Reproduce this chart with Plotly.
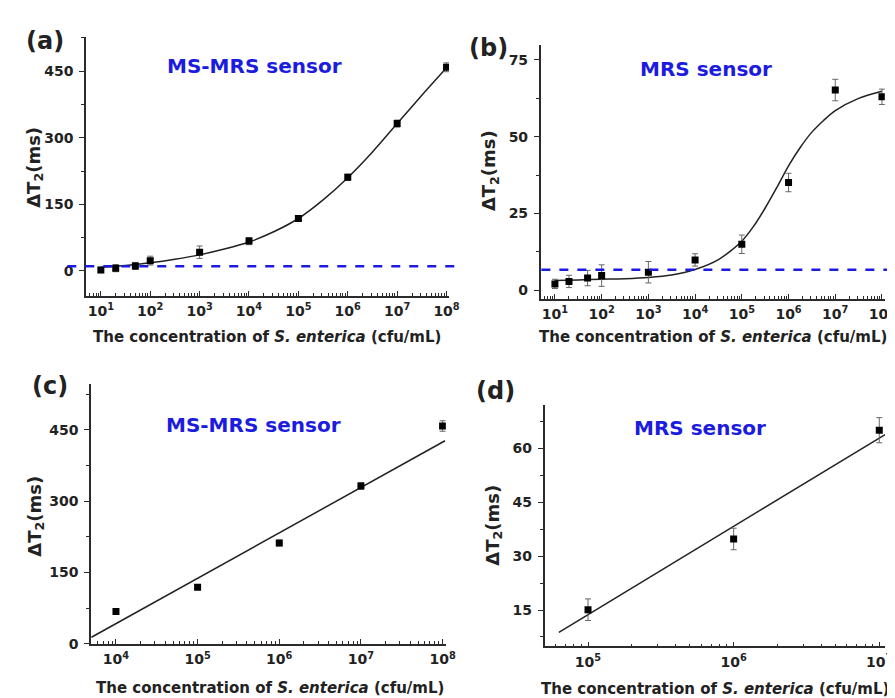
import plotly.graph_objects as go

# ---------------- data ----------------
conc_ab = [10, 20, 50, 100, 1e3, 1e4, 1e5, 1e6, 1e7, 1e8]
dT2_a = [2, 6, 11, 23, 42, 67, 118, 211, 332, 459]
err_a = [6, 8, 8, 10, 14, 8, 6, 7, 8, 10]
dT2_b = [2.1, 2.9, 4.0, 4.8, 5.9, 9.9, 15.0, 35.1, 65.2, 63.0]
err_b = [1.5, 2.0, 2.5, 3.5, 3.5, 2.0, 3.0, 3.0, 3.5, 2.5]

fit_a_x = [10, 10**1.5, 100, 10**2.5, 1e3, 10**3.5, 1e4, 10**4.5, 1e5,
           10**5.5, 1e6, 10**6.5, 1e7, 10**7.5, 1e8]
fit_a_y = [8, 12, 18, 26, 36, 49, 65, 88, 118, 160, 210, 268, 332, 396, 458]

fit_b_x = [10, 10**1.5, 100, 10**2.5, 1e3, 10**3.5, 1e4, 10**4.5, 1e5, 10**5.25,
           10**5.5, 10**5.75, 1e6, 10**6.25, 10**6.5, 10**6.75, 1e7, 10**7.5, 1e8]
fit_b_y = [3.2, 3.4, 3.6, 3.8, 4.2, 5.0, 6.8, 10.0, 16.0, 20.8,
           26.8, 33.5, 40.5, 46.5, 51.5, 55.3, 58.5, 62.5, 64.8]

lod_a = 10.5
lod_b = 6.7

conc_c = [1e4, 1e5, 1e6, 1e7, 1e8]
dT2_c = [68, 119, 212, 332, 458]
err_c = [5, 5, 6, 7, 11]
fit_c_x = [10**3.70, 10**8.03]
fit_c_y = [14, 427]

conc_d = [1e5, 1e6, 1e7]
dT2_d = [15.1, 34.8, 65.1]
err_d = [3.0, 3.0, 3.5]
fit_d_x = [10**4.8, 10**7.04]
fit_d_y = [8.8, 63.9]

xtick_ab = [10, 100, 1e3, 1e4, 1e5, 1e6, 1e7, 1e8]
xtext_ab = ["10<sup>%d</sup>" % k for k in range(1, 9)]
xtick_c = [1e4, 1e5, 1e6, 1e7, 1e8]
xtext_c = ["10<sup>%d</sup>" % k for k in range(4, 9)]
xtick_d = [1e5, 1e6, 1e7]
xtext_d = ["10<sup>%d</sup>" % k for k in range(5, 8)]

panel_labels = ["(a)", "(b)", "(c)", "(d)"]
sensor_labels = ["MS-MRS sensor", "MRS sensor", "MS-MRS sensor", "MRS sensor"]
ytitle = "ΔT<sub>2</sub>(ms)"
xtitle = "The concentration of <i>S. enterica</i> (cfu/mL)"

# ---------------- styling ----------------
W, H = 895, 698
FONT = "DejaVu Sans, Liberation Sans, Arial, sans-serif"
AX = "#2b2b2b"
BLUE = "#1c1ce0"


def px(x):
    return x / W


def py(y):
    return 1 - y / H


def log_minor(k0, k1):
    vals = []
    for k in range(k0, k1 + 1):
        for m in range(2, 10):
            vals.append(m * 10.0 ** k)
    return vals


fig = go.Figure()


def scatter(x, y, e, xa, ya):
    fig.add_trace(go.Scatter(
        x=x, y=y, mode="markers", xaxis=xa, yaxis=ya,
        marker=dict(symbol="square", size=7, color="black"),
        error_y=dict(type="data", array=e, visible=True, color="#666",
                     thickness=1, width=3),
        showlegend=False))


def line(x, y, xa, ya, spline=False):
    fig.add_trace(go.Scatter(
        x=x, y=y, mode="lines", xaxis=xa, yaxis=ya,
        line=dict(color="#222", width=1.5, shape="spline" if spline else "linear",
                  smoothing=0.8),
        showlegend=False))


line(fit_a_x, fit_a_y, "x", "y", True)
scatter(conc_ab, dT2_a, err_a, "x", "y")
line(fit_b_x, fit_b_y, "x2", "y2", True)
scatter(conc_ab, dT2_b, err_b, "x2", "y2")
line(fit_c_x, fit_c_y, "x3", "y3")
scatter(conc_c, dT2_c, err_c, "x3", "y3")
line(fit_d_x, fit_d_y, "x4", "y4")
scatter(conc_d, dT2_d, err_d, "x4", "y4")

tickfont = dict(family=FONT, size=14, color="#222", weight="bold")


def xaxis(dom, rng, tv, tt, minor_vals, anchor):
    return dict(domain=dom, type="log", range=rng, anchor=anchor,
                showline=True, linecolor=AX, linewidth=1.5, showgrid=False,
                zeroline=False, ticks="inside", ticklen=5, tickwidth=1.3,
                tickcolor=AX, tickvals=tv, ticktext=tt, tickfont=tickfont,
                ticklabelstandoff=2,
                minor=dict(ticks="inside", ticklen=3, tickwidth=1, tickcolor=AX,
                           tickvals=minor_vals, showgrid=False),
                fixedrange=True)


def yaxis(dom, rng, dt, anchor):
    return dict(domain=dom, range=rng, anchor=anchor, dtick=dt, tick0=0,
                showline=True, linecolor=AX, linewidth=1.5, showgrid=False,
                zeroline=False, ticks="outside", ticklen=5, tickwidth=1.3,
                tickcolor=AX, tickfont=tickfont, ticklabelstandoff=3,
                minor=dict(ticks="outside", ticklen=3, tickwidth=1, tickcolor=AX,
                           dtick=dt / 2, tick0=0, showgrid=False),
                fixedrange=True)


fig.update_layout(
    width=W, height=H, margin=dict(l=0, r=0, t=0, b=0),
    paper_bgcolor="white", plot_bgcolor="white",
    font=dict(family=FONT, color="#222"),
    xaxis=xaxis([px(79), px(446.5)], [0.7, 8.05], xtick_ab, xtext_ab, log_minor(0, 7), "y"),
    yaxis=yaxis([py(291), py(29)], [-56, 528], 150, "x"),
    xaxis2=xaxis([px(539.3), px(887.7)], [0.695, 8.06], xtick_ab, xtext_ab, log_minor(0, 7), "y2"),
    yaxis2=yaxis([py(294), py(37)], [-2.7, 80], 25, "x2"),
    xaxis3=xaxis([px(84), px(443.3)], [3.694, 8.04], xtick_c, xtext_c, log_minor(3, 7), "y3"),
    yaxis3=yaxis([py(643.3), py(380)], [0, 547], 150, "x3"),
    xaxis4=xaxis([px(543.3), px(888)], [4.702, 7.04], xtick_d, xtext_d, log_minor(4, 6), "y4"),
    yaxis4=yaxis([py(645.7), py(401.7)], [4.9, 72.1], 15, "x4"),
)

# LOD dashed lines
fig.add_shape(type="line", xref="paper", yref="y", x0=px(60), x1=px(460),
              y0=lod_a, y1=lod_a, line=dict(color=BLUE, width=2.5, dash="dash"))
fig.add_shape(type="line", xref="paper", yref="y2", x0=px(540), x1=px(895),
              y0=lod_b, y1=lod_b, line=dict(color=BLUE, width=2.5, dash="dash"))

ann = []
for t, (x, y) in zip(panel_labels, [(37.5, 33), (486, 40), (43, 382), (494, 387)]):
    ann.append(dict(text="<b>%s</b>" % t, x=px(x), y=py(y), xref="paper", yref="paper",
                    showarrow=False, font=dict(family=FONT, size=24, color="#222"),
                    xanchor="center", yanchor="middle"))
for t, (x, y) in zip(sensor_labels, [(250, 59), (706.5, 62), (248.5, 422), (701, 425)]):
    ann.append(dict(text="<b>%s</b>" % t, x=px(x), y=py(y), xref="paper", yref="paper",
                    showarrow=False, font=dict(family=FONT, size=20, color=BLUE),
                    xanchor="center", yanchor="middle"))
for (x, y) in [(27, 161), (488, 165), (28, 514), (491.7, 523)]:
    ann.append(dict(text="<b>%s</b>" % ytitle, x=px(x), y=py(y), xref="paper", yref="paper",
                    showarrow=False, textangle=-90,
                    font=dict(family=FONT, size=18, color="#222"),
                    xanchor="center", yanchor="middle"))
for (x, y) in [(262.5, 333), (713.5, 333), (265, 688), (716, 689)]:
    ann.append(dict(text="<b>%s</b>" % xtitle, x=px(x), y=py(y), xref="paper", yref="paper",
                    showarrow=False, font=dict(family=FONT, size=15, color="#222"),
                    xanchor="center", yanchor="middle"))
fig.update_layout(annotations=ann)

fig.write_html("out.html")
